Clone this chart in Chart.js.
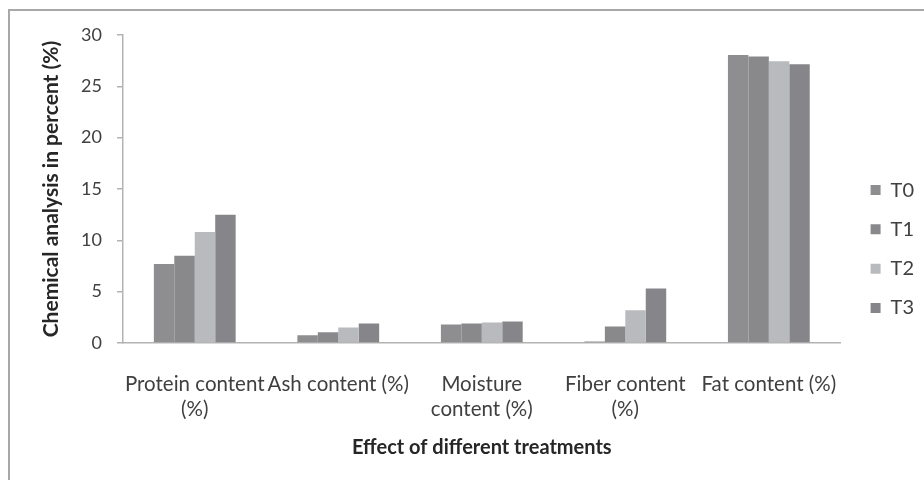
<!DOCTYPE html>
<html>
<head>
<meta charset="utf-8">
<script src="https://cdn.jsdelivr.net/npm/chart.js@4"></script>
<style>
  html, body { margin: 0; padding: 0; background: #fff; }
  #wrap { width: 924px; height: 480px; }
</style>
</head>
<body>
<div id="wrap"><canvas id="chart" width="924" height="480"></canvas></div>
<script>
// Proximate composition of the product under four treatments
const categories = [
  ["Protein content", "(%)"],
  ["Ash content (%)"],
  ["Moisture", "content (%)"],
  ["Fiber content", "(%)"],
  ["Fat content (%)"]
];
const seriesNames = ["T0", "T1", "T2", "T3"];
const t0 = [7.7, 0.75, 1.8, 0.15, 28.05];
const t1 = [8.5, 1.05, 1.9, 1.6, 27.9];
const t2 = [10.8, 1.5, 2.0, 3.2, 27.45];
const t3 = [12.5, 1.9, 2.1, 5.3, 27.15];
const yTicks = [0, 5, 10, 15, 20, 25, 30];

const seriesValues = [t0, t1, t2, t3];
const seriesColors = ["#8e8e91", "#89898c", "#b9babd", "#86868a"];

const FONT = "Lato, 'Open Sans', sans-serif";

// light gray frame around the whole figure
const framePlugin = {
  id: "frame",
  beforeDraw(chart) {
    const ctx = chart.ctx;
    ctx.save();
    ctx.fillStyle = "#ffffff";
    ctx.fillRect(0, 0, chart.width, chart.height);
    ctx.strokeStyle = "#a8a8a8";
    ctx.lineWidth = 2;
    ctx.strokeRect(9, 10, chart.width + 20, chart.height + 20);
    ctx.restore();
  }
};

new Chart(document.getElementById("chart"), {
  type: "bar",
  data: {
    labels: categories,
    datasets: seriesNames.map((name, i) => ({
      label: name,
      data: seriesValues[i],
      backgroundColor: seriesColors[i],
      borderWidth: 0,
      barPercentage: 1,
      categoryPercentage: 0.57
    }))
  },
  options: {
    responsive: false,
    animation: false,
    devicePixelRatio: 1,
    layout: { padding: { left: 10, top: 35, right: 0, bottom: 17 } },
    plugins: {
      tooltip: { enabled: false },
      legend: {
        position: "right",
        labels: {
          boxWidth: 10,
          boxHeight: 10,
          padding: 19.3,
          color: "#404040",
          font: { family: FONT, size: 20 }
        }
      }
    },
    scales: {
      x: {
        grid: { display: false },
        border: { display: true, color: "#b3b3b3", width: 1.5 },
        ticks: {
          color: "#404040",
          padding: 21,
          maxRotation: 0,
          autoSkip: false,
          font: { family: FONT, size: 20.5, lineHeight: 1.22 }
        },
        title: {
          display: true,
          text: "Effect of different treatments",
          color: "#262626",
          font: { family: FONT, size: 20, weight: "bold" },
          padding: { top: 0, bottom: 3 }
        },
        afterFit(scale) { scale.height = 120; }
      },
      y: {
        min: 0,
        max: 30,
        afterBuildTicks(scale) { scale.ticks = yTicks.map(v => ({ value: v })); },
        grid: {
          drawOnChartArea: false,
          drawTicks: true,
          tickLength: 6,
          color: "#b3b3b3",
          lineWidth: 1.5
        },
        border: { display: true, color: "#b3b3b3", width: 1.5 },
        ticks: {
          color: "#404040",
          padding: 15,
          font: { family: FONT, size: 18 }
        },
        title: {
          display: true,
          text: "Chemical analysis in percent (%)",
          color: "#262626",
          font: { family: FONT, size: 21, weight: "bold" },
          padding: { top: 28.4, bottom: 0 }
        },
        afterFit(scale) { scale.width = 113; }
      },
      // empty spacer between the plot area and the legend
      gap: {
        type: "linear",
        position: "right",
        display: true,
        grid: { display: false },
        border: { display: false },
        ticks: { display: false },
        afterFit(scale) { scale.width = 10.7; }
      }
    }
  },
  plugins: [framePlugin]
});
</script>
</body>
</html>
